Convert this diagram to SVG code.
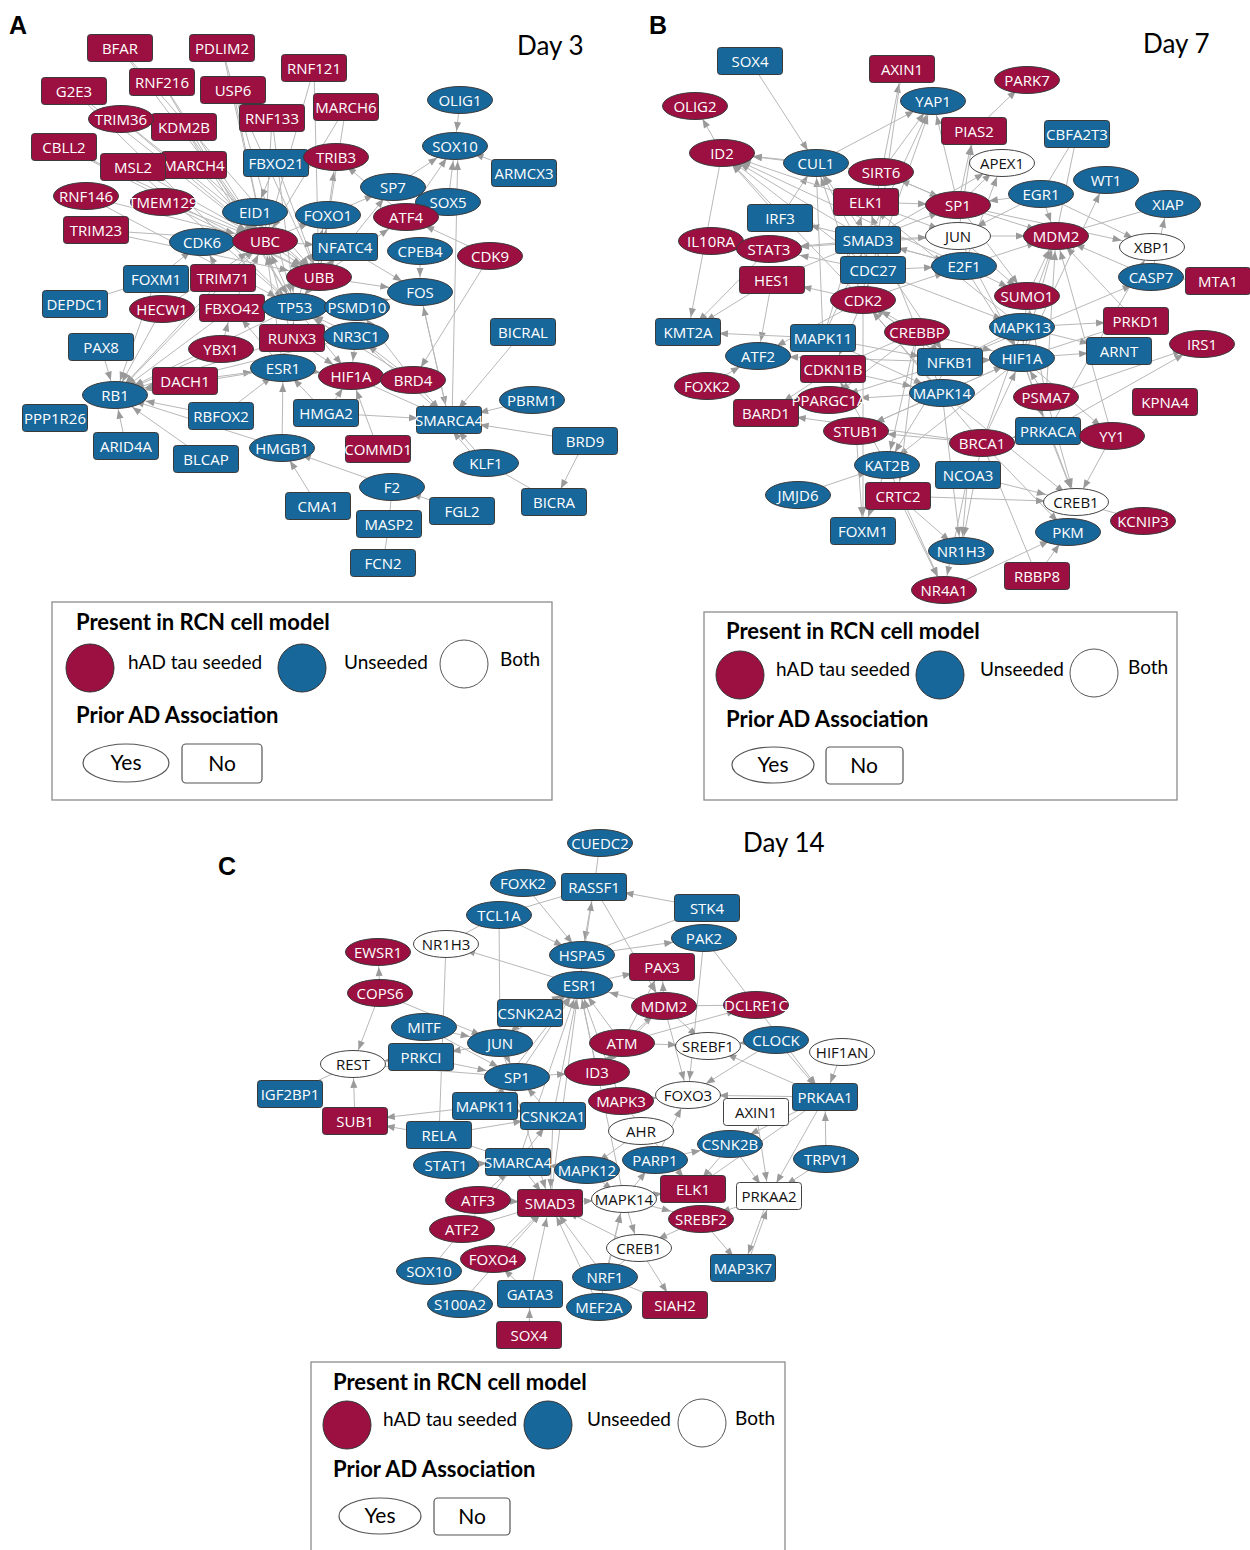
<svg xmlns="http://www.w3.org/2000/svg" xmlns:xlink="http://www.w3.org/1999/xlink" width="1250" height="1550" viewBox="0 0 1250 1550">
<style>
.t{font-family:Lato,"Open Sans",sans-serif;fill:#000}
.pl{font-family:"Liberation Sans",Arial,sans-serif;font-weight:bold;font-size:25px}
.day{font-size:26px}
.lh{font-size:22px;font-weight:bold}
.lt{font-size:19px}
.ly{font-size:21px;text-anchor:middle}
.nd text{font-family:"Open Sans",sans-serif;font-size:15px;fill:#fff;text-anchor:middle}
.nd use{stroke:#3a3a3a;stroke-width:1}
.r use{fill:#9b1040}
.b use{fill:#17679b}
.w use{fill:#fff;stroke:#444}
.w text{fill:#111}
.e{stroke:#b8b8b8;stroke-width:1;fill:none}
.lg{fill:#fff;stroke:#8c8c8c;stroke-width:1.3}
.cr{fill:#9b1040;stroke:#333}
.cb{fill:#17679b;stroke:#333}
.cw{fill:#fff;stroke:#555}
.ys{fill:#fff;stroke:#555;stroke-width:1.2}
</style>
<defs>
<rect id="R" x="-32.5" y="-13.5" width="65" height="27" rx="3"/>
<ellipse id="E" rx="32.5" ry="13.5"/>
<marker id="mv" markerUnits="userSpaceOnUse" markerWidth="9" markerHeight="7" refX="24" refY="3.5" orient="auto" overflow="visible"><path d="M0,0L9,3.5L0,7z" fill="#9a9a9a"/></marker>
<marker id="md" markerUnits="userSpaceOnUse" markerWidth="9" markerHeight="7" refX="30" refY="3.5" orient="auto" overflow="visible"><path d="M0,0L9,3.5L0,7z" fill="#9a9a9a"/></marker>
<marker id="mh" markerUnits="userSpaceOnUse" markerWidth="9" markerHeight="7" refX="40" refY="3.5" orient="auto" overflow="visible"><path d="M0,0L9,3.5L0,7z" fill="#9a9a9a"/></marker>
</defs>
<rect width="1250" height="1550" fill="#fff"/>

<!-- ===== Panel A ===== -->
<g id="panelA">
<text class="t pl" x="9" y="34">A</text>
<text class="t day" x="517" y="55">Day 3</text>
<g id="A_edges" class="e">
<g marker-end="url(#mv)">
<path d="M120 48L265 241"/><path d="M120 48L319 277"/><path d="M222 48L265 241"/><path d="M222 48L295 307"/>
<path d="M162 82L265 241"/><path d="M162 82L295 307"/><path d="M233 90L265 241"/><path d="M233 90L319 277"/>
<path d="M74 91L265 241"/><path d="M74 91L295 307"/><path d="M121 119L265 241"/><path d="M121 119L319 277"/>
<path d="M184 127L265 241"/><path d="M184 127L295 307"/><path d="M133 167L295 307"/><path d="M194 165L265 241"/>
<path d="M194 165L319 277"/><path d="M272 118L265 241"/><path d="M272 118L295 307"/><path d="M314 68L265 241"/>
<path d="M314 68L319 277"/><path d="M346 107L265 241"/><path d="M346 107L319 277"/><path d="M276 163L255 212"/>
<path d="M276 163L319 277"/><path d="M223 278L265 241"/><path d="M232 308L265 241"/><path d="M319 277L295 307"/>
<path d="M295 307L265 241"/><path d="M328 215L336 157"/><path d="M406 217L336 157"/>
<path d="M345 247L393 187"/><path d="M448 202L455 146"/><path d="M406 217L455 146"/><path d="M460 100L455 146"/>
<path d="M490 256L413 380"/><path d="M420 251L420 292"/><path d="M420 292L449 420"/><path d="M449 420L420 292"/><path d="M452 420L458 146"/>
<path d="M523 332L449 420"/><path d="M585 441L554 502"/><path d="M486 463L449 420"/><path d="M480 463L443 420"/><path d="M413 380L449 420"/>
<path d="M356 336L449 420"/><path d="M378 449L351 376"/><path d="M318 506L282 448"/><path d="M282 448L283 368"/>
<path d="M221 416L283 368"/><path d="M126 446L115 395"/><path d="M101 347L115 395"/><path d="M162 309L115 395"/>
<path d="M156 279L115 395"/><path d="M265 241L115 395"/><path d="M223 278L115 395"/><path d="M232 308L115 395"/>
<path d="M156 279L202 242"/><path d="M223 278L202 242"/><path d="M221 349L232 308"/><path d="M283 368L232 308"/>
<path d="M295 307L351 376"/><path d="M356 336L351 376"/><path d="M413 380L356 336"/><path d="M413 380L357 307"/>
<path d="M292 338L295 307"/><path d="M326 413L351 376"/><path d="M326 413L283 368"/><path d="M319 277L345 247"/>
<path d="M319 277L328 215"/><path d="M295 307L328 215"/><path d="M265 241L255 212"/><path d="M292 338L265 241"/>
<path d="M283 368L265 241"/>
</g>
<g marker-end="url(#md)">
<path d="M64 147L265 241"/><path d="M64 147L319 277"/><path d="M133 167L265 241"/><path d="M86 196L295 307"/>
<path d="M163 202L265 241"/><path d="M163 202L319 277"/><path d="M162 309L265 241"/><path d="M265 241L319 277"/>
<path d="M328 215L393 187"/><path d="M393 187L455 146"/><path d="M524 173L455 146"/><path d="M490 256L406 217"/>
<path d="M345 247L420 292"/><path d="M351 376L449 420"/><path d="M392 487L282 448"/><path d="M462 511L392 487"/>
<path d="M282 448L115 395"/><path d="M206 459L115 395"/><path d="M156 279L75 304"/><path d="M221 349L115 395"/>
<path d="M295 307L115 395"/><path d="M292 338L115 395"/><path d="M292 338L351 376"/><path d="M413 380L295 307"/>
<path d="M356 336L295 307"/><path d="M265 241L328 215"/><path d="M319 277L406 217"/>
</g>
<g marker-end="url(#mh)">
<path d="M86 196L265 241"/><path d="M96 230L265 241"/><path d="M96 230L319 277"/><path d="M202 242L265 241"/>
<path d="M319 277L420 292"/><path d="M357 307L420 292"/><path d="M532 400L449 420"/><path d="M585 441L449 420"/>
<path d="M326 413L449 420"/><path d="M221 416L115 395"/><path d="M185 381L115 395"/><path d="M185 381L283 368"/>
<path d="M283 368L115 395"/><path d="M356 336L115 395"/><path d="M283 368L351 376"/><path d="M357 307L295 307"/>
<path d="M265 241L345 247"/>
</g>
<path d="M486 463L554 502"/><path d="M389 524L392 487"/><path d="M383 563L389 524"/>
</g>
<g id="A_nodes">
<g id="A_BFAR" class="nd r" transform="translate(120,48)"><use href="#R"/><text y="5.5">BFAR</text></g>
<g id="A_PDLIM2" class="nd r" transform="translate(222,48)"><use href="#R"/><text y="5.5">PDLIM2</text></g>
<g id="A_RNF121" class="nd r" transform="translate(314,68)"><use href="#R"/><text y="5.5">RNF121</text></g>
<g id="A_G2E3" class="nd r" transform="translate(74,91)"><use href="#R"/><text y="5.5">G2E3</text></g>
<g id="A_RNF216" class="nd r" transform="translate(162,82)"><use href="#R"/><text y="5.5">RNF216</text></g>
<g id="A_USP6" class="nd r" transform="translate(233,90)"><use href="#R"/><text y="5.5">USP6</text></g>
<g id="A_RNF133" class="nd r" transform="translate(272,118)"><use href="#R"/><text y="5.5">RNF133</text></g>
<g id="A_MARCH6" class="nd r" transform="translate(346,107)"><use href="#R"/><text y="5.5">MARCH6</text></g>
<g id="A_KDM2B" class="nd r" transform="translate(184,127)"><use href="#R"/><text y="5.5">KDM2B</text></g>
<g id="A_TRIM36" class="nd r" transform="translate(121,119)"><use href="#E"/><text y="5.5">TRIM36</text></g>
<g id="A_CBLL2" class="nd r" transform="translate(64,147)"><use href="#R"/><text y="5.5">CBLL2</text></g>
<g id="A_MARCH4" class="nd r" transform="translate(194,165)"><use href="#R"/><text y="5.5">MARCH4</text></g>
<g id="A_MSL2" class="nd r" transform="translate(133,167)"><use href="#R"/><text y="5.5">MSL2</text></g>
<g id="A_FBXO21" class="nd b" transform="translate(276,163)"><use href="#R"/><text y="5.5">FBXO21</text></g>
<g id="A_TRIB3" class="nd r" transform="translate(336,157)"><use href="#E"/><text y="5.5">TRIB3</text></g>
<g id="A_OLIG1" class="nd b" transform="translate(460,100)"><use href="#E"/><text y="5.5">OLIG1</text></g>
<g id="A_SOX10" class="nd b" transform="translate(455,146)"><use href="#E"/><text y="5.5">SOX10</text></g>
<g id="A_ARMCX3" class="nd b" transform="translate(524,173)"><use href="#R"/><text y="5.5">ARMCX3</text></g>
<g id="A_SP7" class="nd b" transform="translate(393,187)"><use href="#E"/><text y="5.5">SP7</text></g>
<g id="A_SOX5" class="nd b" transform="translate(448,202)"><use href="#E"/><text y="5.5">SOX5</text></g>
<g id="A_RNF146" class="nd r" transform="translate(86,196)"><use href="#E"/><text y="5.5">RNF146</text></g>
<g id="A_TMEM129" class="nd r" transform="translate(163,202)"><use href="#E"/><text y="5.5">TMEM129</text></g>
<g id="A_EID1" class="nd b" transform="translate(255,212)"><use href="#E"/><text y="5.5">EID1</text></g>
<g id="A_FOXO1" class="nd b" transform="translate(328,215)"><use href="#E"/><text y="5.5">FOXO1</text></g>
<g id="A_ATF4" class="nd r" transform="translate(406,217)"><use href="#E"/><text y="5.5">ATF4</text></g>
<g id="A_TRIM23" class="nd r" transform="translate(96,230)"><use href="#R"/><text y="5.5">TRIM23</text></g>
<g id="A_CDK6" class="nd b" transform="translate(202,242)"><use href="#E"/><text y="5.5">CDK6</text></g>
<g id="A_UBC" class="nd r" transform="translate(265,241)"><use href="#E"/><text y="5.5">UBC</text></g>
<g id="A_NFATC4" class="nd b" transform="translate(345,247)"><use href="#R"/><text y="5.5">NFATC4</text></g>
<g id="A_CPEB4" class="nd b" transform="translate(420,251)"><use href="#E"/><text y="5.5">CPEB4</text></g>
<g id="A_CDK9" class="nd r" transform="translate(490,256)"><use href="#E"/><text y="5.5">CDK9</text></g>
<g id="A_FOXM1" class="nd b" transform="translate(156,279)"><use href="#R"/><text y="5.5">FOXM1</text></g>
<g id="A_TRIM71" class="nd r" transform="translate(223,278)"><use href="#R"/><text y="5.5">TRIM71</text></g>
<g id="A_UBB" class="nd r" transform="translate(319,277)"><use href="#E"/><text y="5.5">UBB</text></g>
<g id="A_FOS" class="nd b" transform="translate(420,292)"><use href="#E"/><text y="5.5">FOS</text></g>
<g id="A_DEPDC1" class="nd b" transform="translate(75,304)"><use href="#R"/><text y="5.5">DEPDC1</text></g>
<g id="A_HECW1" class="nd r" transform="translate(162,309)"><use href="#E"/><text y="5.5">HECW1</text></g>
<g id="A_FBXO42" class="nd r" transform="translate(232,308)"><use href="#R"/><text y="5.5">FBXO42</text></g>
<g id="A_TP53" class="nd b" transform="translate(295,307)"><use href="#E"/><text y="5.5">TP53</text></g>
<g id="A_PSMD10" class="nd b" transform="translate(357,307)"><use href="#E"/><text y="5.5">PSMD10</text></g>
<g id="A_RUNX3" class="nd r" transform="translate(292,338)"><use href="#R"/><text y="5.5">RUNX3</text></g>
<g id="A_NR3C1" class="nd b" transform="translate(356,336)"><use href="#E"/><text y="5.5">NR3C1</text></g>
<g id="A_BICRAL" class="nd b" transform="translate(523,332)"><use href="#R"/><text y="5.5">BICRAL</text></g>
<g id="A_PAX8" class="nd b" transform="translate(101,347)"><use href="#R"/><text y="5.5">PAX8</text></g>
<g id="A_YBX1" class="nd r" transform="translate(221,349)"><use href="#E"/><text y="5.5">YBX1</text></g>
<g id="A_ESR1" class="nd b" transform="translate(283,368)"><use href="#E"/><text y="5.5">ESR1</text></g>
<g id="A_HIF1A" class="nd r" transform="translate(351,376)"><use href="#E"/><text y="5.5">HIF1A</text></g>
<g id="A_BRD4" class="nd r" transform="translate(413,380)"><use href="#E"/><text y="5.5">BRD4</text></g>
<g id="A_DACH1" class="nd r" transform="translate(185,381)"><use href="#R"/><text y="5.5">DACH1</text></g>
<g id="A_RB1" class="nd b" transform="translate(115,395)"><use href="#E"/><text y="5.5">RB1</text></g>
<g id="A_PBRM1" class="nd b" transform="translate(532,400)"><use href="#E"/><text y="5.5">PBRM1</text></g>
<g id="A_PPP1R26" class="nd b" transform="translate(55,418)"><use href="#R"/><text y="5.5">PPP1R26</text></g>
<g id="A_RBFOX2" class="nd b" transform="translate(221,416)"><use href="#R"/><text y="5.5">RBFOX2</text></g>
<g id="A_HMGA2" class="nd b" transform="translate(326,413)"><use href="#R"/><text y="5.5">HMGA2</text></g>
<g id="A_SMARCA4" class="nd b" transform="translate(449,420)"><use href="#R"/><text y="5.5">SMARCA4</text></g>
<g id="A_BRD9" class="nd b" transform="translate(585,441)"><use href="#R"/><text y="5.5">BRD9</text></g>
<g id="A_ARID4A" class="nd b" transform="translate(126,446)"><use href="#R"/><text y="5.5">ARID4A</text></g>
<g id="A_HMGB1" class="nd b" transform="translate(282,448)"><use href="#E"/><text y="5.5">HMGB1</text></g>
<g id="A_COMMD1" class="nd r" transform="translate(378,449)"><use href="#R"/><text y="5.5">COMMD1</text></g>
<g id="A_BLCAP" class="nd b" transform="translate(206,459)"><use href="#R"/><text y="5.5">BLCAP</text></g>
<g id="A_KLF1" class="nd b" transform="translate(486,463)"><use href="#E"/><text y="5.5">KLF1</text></g>
<g id="A_F2" class="nd b" transform="translate(392,487)"><use href="#E"/><text y="5.5">F2</text></g>
<g id="A_BICRA" class="nd b" transform="translate(554,502)"><use href="#R"/><text y="5.5">BICRA</text></g>
<g id="A_CMA1" class="nd b" transform="translate(318,506)"><use href="#R"/><text y="5.5">CMA1</text></g>
<g id="A_FGL2" class="nd b" transform="translate(462,511)"><use href="#R"/><text y="5.5">FGL2</text></g>
<g id="A_MASP2" class="nd b" transform="translate(389,524)"><use href="#R"/><text y="5.5">MASP2</text></g>
<g id="A_FCN2" class="nd b" transform="translate(383,563)"><use href="#R"/><text y="5.5">FCN2</text></g>
</g>
<g id="A_legend">
<rect class="lg" x="52" y="602" width="500" height="198"/>
<text class="t lh" x="76" y="630">Present in RCN cell model</text>
<circle class="cr" cx="90" cy="668" r="24"/>
<text class="t lt" x="128" y="669">hAD tau seeded</text>
<circle class="cb" cx="302" cy="668" r="24"/>
<text class="t lt" x="344" y="669">Unseeded</text>
<circle class="cw" cx="464" cy="664" r="24"/>
<text class="t lt" x="500" y="666">Both</text>
<text class="t lh" x="76" y="723">Prior AD Association</text>
<ellipse class="ys" cx="126" cy="763" rx="43" ry="19"/>
<text class="t ly" x="126" y="770">Yes</text>
<rect class="ys" x="182" y="744" width="80" height="39" rx="4"/>
<text class="t ly" x="222" y="771">No</text>
</g>
</g>

<!-- ===== Panel B ===== -->
<g id="panelB">
<text class="t pl" x="649" y="34">B</text>
<text class="t day" x="1143" y="53">Day 7</text>
<g id="B_edges" class="e">
<g marker-end="url(#mv)">
<path d="M750 61L816 163"/><path d="M722 153L695 106"/><path d="M873 270L722 153"/><path d="M863 300L722 153"/>
<path d="M722 153L688 332"/><path d="M769 249L688 332"/><path d="M868 240L902 69"/><path d="M902 69L873 270"/>
<path d="M868 240L933 101"/><path d="M873 270L933 101"/><path d="M881 172L933 101"/><path d="M958 205L933 101"/>
<path d="M974 131L1027 80"/><path d="M958 205L974 131"/><path d="M958 236L974 131"/><path d="M964 266L1002 163"/>
<path d="M958 205L1002 163"/><path d="M1041 194L1056 236"/><path d="M1022 358L1106 180"/><path d="M1151 277L1168 204"/>
<path d="M1027 296L1056 236"/><path d="M1022 358L1056 236"/><path d="M1046 397L1056 236"/><path d="M1136 321L1056 236"/>
<path d="M1112 436L1056 236"/><path d="M982 443L1056 236"/><path d="M1048 431L1152 247"/><path d="M772 280L758 356"/>
<path d="M780 218L816 163"/><path d="M780 218L722 153"/><path d="M863 300L833 369"/><path d="M917 332L829 400"/>
<path d="M917 332L887 465"/><path d="M950 362L887 465"/><path d="M1022 358L887 465"/><path d="M856 431L863 531"/>
<path d="M887 465L863 531"/><path d="M863 300L863 531"/><path d="M917 332L898 496"/><path d="M898 496L944 590"/>
<path d="M887 465L944 590"/><path d="M968 475L944 590"/><path d="M982 443L961 551"/><path d="M968 475L961 551"/>
<path d="M898 496L961 551"/><path d="M942 393L961 551"/><path d="M1037 576L1068 532"/><path d="M982 443L1068 532"/>
<path d="M1112 436L1076 502"/><path d="M1048 431L1076 502"/><path d="M1022 358L1076 502"/><path d="M942 393L1076 502"/>
<path d="M1046 397L1076 502"/><path d="M1022 358L1048 431"/><path d="M1022 358L1112 436"/><path d="M982 443L1022 358"/>
<path d="M964 266L1022 358"/><path d="M958 236L1022 358"/><path d="M1027 296L1022 358"/><path d="M1046 397L1022 358"/>
<path d="M863 300L950 362"/><path d="M917 332L950 362"/><path d="M868 240L950 362"/><path d="M958 236L1027 296"/>
<path d="M958 205L1027 296"/><path d="M873 270L816 163"/><path d="M868 240L816 163"/><path d="M863 300L816 163"/>
<path d="M823 338L816 163"/><path d="M823 338L866 202"/><path d="M942 393L866 202"/><path d="M1022 327L866 202"/>
<path d="M863 300L868 240"/><path d="M823 338L868 240"/><path d="M863 300L873 270"/><path d="M942 393L863 300"/>
<path d="M950 362L863 300"/><path d="M982 443L863 300"/><path d="M1046 397L1027 296"/><path d="M887 465L833 369"/>
</g>
<g marker-end="url(#md)">
<path d="M868 240L722 153"/><path d="M866 202L722 153"/><path d="M964 266L722 153"/><path d="M816 163L933 101"/>
<path d="M868 240L1002 163"/><path d="M1041 194L1152 247"/><path d="M1041 194L958 236"/><path d="M964 266L1056 236"/>
<path d="M958 205L1056 236"/><path d="M1151 277L1056 236"/><path d="M868 240L772 280"/><path d="M772 280L688 332"/>
<path d="M707 386L758 356"/><path d="M863 300L758 356"/><path d="M917 332L833 369"/><path d="M833 369L766 413"/>
<path d="M950 362L829 400"/><path d="M1022 358L856 431"/><path d="M942 393L856 431"/><path d="M798 495L887 465"/>
<path d="M944 590L1068 532"/><path d="M1022 358L1136 321"/><path d="M1046 397L1202 344"/><path d="M1048 431L1202 344"/>
<path d="M873 270L1022 327"/><path d="M942 393L1022 358"/><path d="M823 338L942 393"/><path d="M964 266L1027 296"/>
<path d="M863 300L964 266"/><path d="M868 240L964 266"/><path d="M866 202L958 236"/><path d="M881 172L958 205"/>
<path d="M868 240L958 205"/><path d="M958 205L881 172"/><path d="M917 332L863 300"/><path d="M1022 327L950 362"/>
<path d="M950 362L1151 277"/>
</g>
<g marker-end="url(#mh)">
<path d="M816 163L722 153"/><path d="M881 172L722 153"/><path d="M1041 194L958 205"/><path d="M958 236L1056 236"/>
<path d="M958 205L1152 247"/><path d="M868 240L769 249"/><path d="M873 270L769 249"/><path d="M958 236L769 249"/>
<path d="M863 300L772 280"/><path d="M868 240L780 218"/><path d="M823 338L688 332"/><path d="M950 362L758 356"/>
<path d="M982 443L766 413"/><path d="M942 393L829 400"/><path d="M982 443L856 431"/><path d="M898 496L1076 502"/>
<path d="M968 475L1076 502"/><path d="M1022 327L1136 321"/><path d="M1022 358L1119 351"/><path d="M1022 327L1119 351"/>
<path d="M950 362L1022 358"/><path d="M917 332L1022 358"/><path d="M823 338L950 362"/><path d="M833 369L942 393"/>
<path d="M873 270L964 266"/><path d="M868 240L958 236"/><path d="M866 202L958 205"/><path d="M964 266L868 240"/>
<path d="M1048 431L982 443"/>
</g>
<path d="M1077 134L1041 194"/><path d="M1077 134L1056 236"/><path d="M1168 204L1056 236"/><path d="M1218 281L1151 277"/>
<path d="M1143 521L1076 502"/><path d="M982 443L1037 576"/>
</g>
<g id="B_nodes">
<g id="B_SOX4" class="nd b" transform="translate(750,61)"><use href="#R"/><text y="5.5">SOX4</text></g>
<g id="B_AXIN1" class="nd r" transform="translate(902,69)"><use href="#R"/><text y="5.5">AXIN1</text></g>
<g id="B_PARK7" class="nd r" transform="translate(1027,80)"><use href="#E"/><text y="5.5">PARK7</text></g>
<g id="B_OLIG2" class="nd r" transform="translate(695,106)"><use href="#E"/><text y="5.5">OLIG2</text></g>
<g id="B_YAP1" class="nd b" transform="translate(933,101)"><use href="#E"/><text y="5.5">YAP1</text></g>
<g id="B_PIAS2" class="nd r" transform="translate(974,131)"><use href="#R"/><text y="5.5">PIAS2</text></g>
<g id="B_CBFA2T3" class="nd b" transform="translate(1077,134)"><use href="#R"/><text y="5.5">CBFA2T3</text></g>
<g id="B_ID2" class="nd r" transform="translate(722,153)"><use href="#E"/><text y="5.5">ID2</text></g>
<g id="B_CUL1" class="nd b" transform="translate(816,163)"><use href="#E"/><text y="5.5">CUL1</text></g>
<g id="B_SIRT6" class="nd r" transform="translate(881,172)"><use href="#E"/><text y="5.5">SIRT6</text></g>
<g id="B_APEX1" class="nd w" transform="translate(1002,163)"><use href="#E"/><text y="5.5">APEX1</text></g>
<g id="B_WT1" class="nd b" transform="translate(1106,180)"><use href="#E"/><text y="5.5">WT1</text></g>
<g id="B_EGR1" class="nd b" transform="translate(1041,194)"><use href="#E"/><text y="5.5">EGR1</text></g>
<g id="B_XIAP" class="nd b" transform="translate(1168,204)"><use href="#E"/><text y="5.5">XIAP</text></g>
<g id="B_ELK1" class="nd r" transform="translate(866,202)"><use href="#R"/><text y="5.5">ELK1</text></g>
<g id="B_SP1" class="nd r" transform="translate(958,205)"><use href="#E"/><text y="5.5">SP1</text></g>
<g id="B_IRF3" class="nd b" transform="translate(780,218)"><use href="#R"/><text y="5.5">IRF3</text></g>
<g id="B_SMAD3" class="nd b" transform="translate(868,240)"><use href="#R"/><text y="5.5">SMAD3</text></g>
<g id="B_JUN" class="nd w" transform="translate(958,236)"><use href="#E"/><text y="5.5">JUN</text></g>
<g id="B_MDM2" class="nd r" transform="translate(1056,236)"><use href="#E"/><text y="5.5">MDM2</text></g>
<g id="B_XBP1" class="nd w" transform="translate(1152,247)"><use href="#E"/><text y="5.5">XBP1</text></g>
<g id="B_IL10RA" class="nd r" transform="translate(711,241)"><use href="#E"/><text y="5.5">IL10RA</text></g>
<g id="B_STAT3" class="nd r" transform="translate(769,249)"><use href="#E"/><text y="5.5">STAT3</text></g>
<g id="B_E2F1" class="nd b" transform="translate(964,266)"><use href="#E"/><text y="5.5">E2F1</text></g>
<g id="B_CDC27" class="nd b" transform="translate(873,270)"><use href="#R"/><text y="5.5">CDC27</text></g>
<g id="B_HES1" class="nd r" transform="translate(772,280)"><use href="#R"/><text y="5.5">HES1</text></g>
<g id="B_CASP7" class="nd b" transform="translate(1151,277)"><use href="#E"/><text y="5.5">CASP7</text></g>
<g id="B_MTA1" class="nd r" transform="translate(1218,281)"><use href="#R"/><text y="5.5">MTA1</text></g>
<g id="B_CDK2" class="nd r" transform="translate(863,300)"><use href="#E"/><text y="5.5">CDK2</text></g>
<g id="B_SUMO1" class="nd r" transform="translate(1027,296)"><use href="#E"/><text y="5.5">SUMO1</text></g>
<g id="B_KMT2A" class="nd b" transform="translate(688,332)"><use href="#R"/><text y="5.5">KMT2A</text></g>
<g id="B_MAPK11" class="nd b" transform="translate(823,338)"><use href="#R"/><text y="5.5">MAPK11</text></g>
<g id="B_CREBBP" class="nd r" transform="translate(917,332)"><use href="#E"/><text y="5.5">CREBBP</text></g>
<g id="B_MAPK13" class="nd b" transform="translate(1022,327)"><use href="#E"/><text y="5.5">MAPK13</text></g>
<g id="B_PRKD1" class="nd r" transform="translate(1136,321)"><use href="#R"/><text y="5.5">PRKD1</text></g>
<g id="B_IRS1" class="nd r" transform="translate(1202,344)"><use href="#E"/><text y="5.5">IRS1</text></g>
<g id="B_ATF2" class="nd b" transform="translate(758,356)"><use href="#E"/><text y="5.5">ATF2</text></g>
<g id="B_NFKB1" class="nd b" transform="translate(950,362)"><use href="#R"/><text y="5.5">NFKB1</text></g>
<g id="B_HIF1A" class="nd b" transform="translate(1022,358)"><use href="#E"/><text y="5.5">HIF1A</text></g>
<g id="B_ARNT" class="nd b" transform="translate(1119,351)"><use href="#R"/><text y="5.5">ARNT</text></g>
<g id="B_CDKN1B" class="nd r" transform="translate(833,369)"><use href="#R"/><text y="5.5">CDKN1B</text></g>
<g id="B_FOXK2" class="nd r" transform="translate(707,386)"><use href="#E"/><text y="5.5">FOXK2</text></g>
<g id="B_MAPK14" class="nd b" transform="translate(942,393)"><use href="#E"/><text y="5.5">MAPK14</text></g>
<g id="B_PSMA7" class="nd r" transform="translate(1046,397)"><use href="#E"/><text y="5.5">PSMA7</text></g>
<g id="B_KPNA4" class="nd r" transform="translate(1165,402)"><use href="#R"/><text y="5.5">KPNA4</text></g>
<g id="B_BARD1" class="nd r" transform="translate(766,413)"><use href="#R"/><text y="5.5">BARD1</text></g>
<g id="B_PPARGC1A" class="nd r" transform="translate(829,400)"><use href="#E"/><text y="5.5">PPARGC1A</text></g>
<g id="B_STUB1" class="nd r" transform="translate(856,431)"><use href="#E"/><text y="5.5">STUB1</text></g>
<g id="B_PRKACA" class="nd b" transform="translate(1048,431)"><use href="#R"/><text y="5.5">PRKACA</text></g>
<g id="B_YY1" class="nd r" transform="translate(1112,436)"><use href="#E"/><text y="5.5">YY1</text></g>
<g id="B_BRCA1" class="nd r" transform="translate(982,443)"><use href="#E"/><text y="5.5">BRCA1</text></g>
<g id="B_KAT2B" class="nd b" transform="translate(887,465)"><use href="#E"/><text y="5.5">KAT2B</text></g>
<g id="B_NCOA3" class="nd b" transform="translate(968,475)"><use href="#R"/><text y="5.5">NCOA3</text></g>
<g id="B_JMJD6" class="nd b" transform="translate(798,495)"><use href="#E"/><text y="5.5">JMJD6</text></g>
<g id="B_CRTC2" class="nd r" transform="translate(898,496)"><use href="#R"/><text y="5.5">CRTC2</text></g>
<g id="B_CREB1" class="nd w" transform="translate(1076,502)"><use href="#E"/><text y="5.5">CREB1</text></g>
<g id="B_KCNIP3" class="nd r" transform="translate(1143,521)"><use href="#E"/><text y="5.5">KCNIP3</text></g>
<g id="B_FOXM1" class="nd b" transform="translate(863,531)"><use href="#R"/><text y="5.5">FOXM1</text></g>
<g id="B_PKM" class="nd b" transform="translate(1068,532)"><use href="#E"/><text y="5.5">PKM</text></g>
<g id="B_NR1H3" class="nd b" transform="translate(961,551)"><use href="#E"/><text y="5.5">NR1H3</text></g>
<g id="B_RBBP8" class="nd r" transform="translate(1037,576)"><use href="#R"/><text y="5.5">RBBP8</text></g>
<g id="B_NR4A1" class="nd r" transform="translate(944,590)"><use href="#E"/><text y="5.5">NR4A1</text></g>
</g>
<g id="B_legend">
<rect class="lg" x="704" y="612" width="473" height="188"/>
<text class="t lh" x="726" y="639">Present in RCN cell model</text>
<circle class="cr" cx="740" cy="675" r="24"/>
<text class="t lt" x="776" y="676">hAD tau seeded</text>
<circle class="cb" cx="940" cy="675" r="24"/>
<text class="t lt" x="980" y="676">Unseeded</text>
<circle class="cw" cx="1094" cy="673" r="24"/>
<text class="t lt" x="1128" y="674">Both</text>
<text class="t lh" x="726" y="727">Prior AD Association</text>
<ellipse class="ys" cx="773" cy="765" rx="41" ry="18"/>
<text class="t ly" x="773" y="772">Yes</text>
<rect class="ys" x="826" y="747" width="77" height="37" rx="4"/>
<text class="t ly" x="864" y="773">No</text>
</g>
</g>

<!-- ===== Panel C ===== -->
<g id="panelC">
<text class="t pl" x="218" y="875">C</text>
<text class="t day" x="743" y="852">Day 14</text>
<g id="C_edges" class="e">
<g marker-end="url(#mv)">
<path d="M594 887L582 955"/><path d="M579 985L594 887"/><path d="M594 887L664 1006"/><path d="M523 883L582 955"/>
<path d="M380 993L378 952"/><path d="M380 993L353 1064"/><path d="M355 1121L353 1064"/><path d="M704 938L825 1097"/>
<path d="M704 938L688 1095"/><path d="M664 1006L662 967"/><path d="M622 1043L662 967"/><path d="M500 1043L579 985"/>
<path d="M517 1077L579 985"/><path d="M485 1106L579 985"/><path d="M553 1116L579 985"/><path d="M622 1043L579 985"/>
<path d="M597 1072L579 985"/><path d="M621 1101L579 985"/><path d="M518 1162L579 985"/><path d="M550 1203L579 985"/>
<path d="M624 1199L579 985"/><path d="M776 1040L825 1097"/><path d="M842 1052L825 1097"/><path d="M826 1159L825 1097"/>
<path d="M825 1097L769 1196"/><path d="M756 1112L769 1196"/><path d="M731 1144L769 1196"/><path d="M769 1196L743 1268"/>
<path d="M746 1268L772 1196"/><path d="M701 1219L743 1268"/><path d="M639 1248L675 1305"/><path d="M664 1006L708 1046"/>
<path d="M664 1006L688 1095"/><path d="M655 1160L688 1095"/><path d="M624 1199L655 1160"/><path d="M624 1199L639 1248"/>
<path d="M587 1170L624 1199"/><path d="M621 1101L693 1189"/><path d="M493 1259L550 1203"/><path d="M530 1294L550 1203"/>
<path d="M518 1162L550 1203"/><path d="M529 1335L530 1294"/><path d="M605 1277L550 1203"/><path d="M599 1307L550 1203"/>
<path d="M460 1304L550 1203"/><path d="M530 1294L493 1259"/><path d="M605 1277L624 1199"/><path d="M599 1307L624 1199"/>
<path d="M553 1116L517 1077"/><path d="M500 1043L517 1077"/><path d="M597 1072L622 1043"/><path d="M622 1043L664 1006"/>
<path d="M530 1013L500 1043"/><path d="M641 1131L587 1170"/><path d="M731 1144L693 1189"/><path d="M517 1077L485 1106"/>
<path d="M553 1116L550 1203"/><path d="M500 1043L550 1203"/><path d="M478 1200L518 1162"/><path d="M664 1006L597 1072"/>
<path d="M518 1162L553 1116"/><path d="M825 1097L693 1189"/>
</g>
<g marker-end="url(#md)">
<path d="M582 955L707 908"/><path d="M499 915L582 955"/><path d="M579 985L446 944"/><path d="M380 993L500 1043"/>
<path d="M530 1013L579 985"/><path d="M622 1043L756 1005"/><path d="M826 1159L769 1196"/><path d="M825 1097L708 1046"/>
<path d="M769 1196L701 1219"/><path d="M776 1040L688 1095"/><path d="M462 1229L550 1203"/><path d="M639 1248L550 1203"/>
<path d="M439 1135L518 1162"/><path d="M424 1027L517 1077"/><path d="M701 1219L639 1248"/><path d="M825 1097L731 1144"/>
</g>
<g marker-end="url(#mh)">
<path d="M707 908L594 887"/><path d="M582 955L704 938"/><path d="M424 1027L500 1043"/><path d="M500 1043L421 1057"/>
<path d="M439 1135L355 1121"/><path d="M485 1106L355 1121"/><path d="M579 985L662 967"/><path d="M664 1006L579 985"/>
<path d="M825 1097L688 1095"/><path d="M622 1043L708 1046"/><path d="M776 1040L708 1046"/><path d="M655 1160L731 1144"/>
<path d="M624 1199L693 1189"/><path d="M624 1199L701 1219"/><path d="M621 1101L688 1095"/><path d="M478 1200L550 1203"/>
<path d="M446 1165L518 1162"/><path d="M439 1135L553 1116"/><path d="M485 1106L553 1116"/><path d="M517 1077L597 1072"/>
<path d="M421 1057L517 1077"/><path d="M550 1203L624 1199"/><path d="M587 1170L518 1162"/><path d="M421 1057L353 1064"/>
</g>
<path d="M600 843L594 887"/><path d="M499 915L446 944"/><path d="M499 915L500 1043"/><path d="M499 915L594 887"/>
<path d="M446 944L439 1135"/><path d="M290 1094L353 1064"/><path d="M353 1064L517 1077"/><path d="M664 1006L756 1005"/>
<path d="M605 1277L675 1305"/><path d="M639 1248L605 1277"/><path d="M429 1271L518 1162"/>
</g>
<g id="C_nodes">
<g id="C_CUEDC2" class="nd b" transform="translate(600,843)"><use href="#E"/><text y="5.5">CUEDC2</text></g>
<g id="C_FOXK2" class="nd b" transform="translate(523,883)"><use href="#E"/><text y="5.5">FOXK2</text></g>
<g id="C_RASSF1" class="nd b" transform="translate(594,887)"><use href="#R"/><text y="5.5">RASSF1</text></g>
<g id="C_STK4" class="nd b" transform="translate(707,908)"><use href="#R"/><text y="5.5">STK4</text></g>
<g id="C_TCL1A" class="nd b" transform="translate(499,915)"><use href="#E"/><text y="5.5">TCL1A</text></g>
<g id="C_PAK2" class="nd b" transform="translate(704,938)"><use href="#E"/><text y="5.5">PAK2</text></g>
<g id="C_NR1H3" class="nd w" transform="translate(446,944)"><use href="#E"/><text y="5.5">NR1H3</text></g>
<g id="C_EWSR1" class="nd r" transform="translate(378,952)"><use href="#E"/><text y="5.5">EWSR1</text></g>
<g id="C_HSPA5" class="nd b" transform="translate(582,955)"><use href="#E"/><text y="5.5">HSPA5</text></g>
<g id="C_PAX3" class="nd r" transform="translate(662,967)"><use href="#R"/><text y="5.5">PAX3</text></g>
<g id="C_ESR1" class="nd b" transform="translate(580,985)"><use href="#E"/><text y="5.5">ESR1</text></g>
<g id="C_COPS6" class="nd r" transform="translate(380,993)"><use href="#E"/><text y="5.5">COPS6</text></g>
<g id="C_MDM2" class="nd r" transform="translate(664,1006)"><use href="#E"/><text y="5.5">MDM2</text></g>
<g id="C_DCLRE1C" class="nd r" transform="translate(756,1005)"><use href="#E"/><text y="5.5">DCLRE1C</text></g>
<g id="C_CSNK2A2" class="nd b" transform="translate(530,1013)"><use href="#R"/><text y="5.5">CSNK2A2</text></g>
<g id="C_MITF" class="nd b" transform="translate(424,1027)"><use href="#E"/><text y="5.5">MITF</text></g>
<g id="C_JUN" class="nd b" transform="translate(500,1043)"><use href="#E"/><text y="5.5">JUN</text></g>
<g id="C_ATM" class="nd r" transform="translate(622,1043)"><use href="#E"/><text y="5.5">ATM</text></g>
<g id="C_SREBF1" class="nd w" transform="translate(708,1046)"><use href="#E"/><text y="5.5">SREBF1</text></g>
<g id="C_CLOCK" class="nd b" transform="translate(776,1040)"><use href="#E"/><text y="5.5">CLOCK</text></g>
<g id="C_HIF1AN" class="nd w" transform="translate(842,1052)"><use href="#E"/><text y="5.5">HIF1AN</text></g>
<g id="C_PRKCI" class="nd b" transform="translate(421,1057)"><use href="#R"/><text y="5.5">PRKCI</text></g>
<g id="C_REST" class="nd w" transform="translate(353,1064)"><use href="#E"/><text y="5.5">REST</text></g>
<g id="C_SP1" class="nd b" transform="translate(517,1077)"><use href="#E"/><text y="5.5">SP1</text></g>
<g id="C_ID3" class="nd r" transform="translate(597,1072)"><use href="#E"/><text y="5.5">ID3</text></g>
<g id="C_FOXO3" class="nd w" transform="translate(688,1095)"><use href="#E"/><text y="5.5">FOXO3</text></g>
<g id="C_MAPK3" class="nd r" transform="translate(621,1101)"><use href="#E"/><text y="5.5">MAPK3</text></g>
<g id="C_IGF2BP1" class="nd b" transform="translate(290,1094)"><use href="#R"/><text y="5.5">IGF2BP1</text></g>
<g id="C_PRKAA1" class="nd b" transform="translate(825,1097)"><use href="#R"/><text y="5.5">PRKAA1</text></g>
<g id="C_AXIN1" class="nd w" transform="translate(756,1112)"><use href="#R"/><text y="5.5">AXIN1</text></g>
<g id="C_MAPK11" class="nd b" transform="translate(485,1106)"><use href="#R"/><text y="5.5">MAPK11</text></g>
<g id="C_CSNK2A1" class="nd b" transform="translate(553,1116)"><use href="#R"/><text y="5.5">CSNK2A1</text></g>
<g id="C_SUB1" class="nd r" transform="translate(355,1121)"><use href="#R"/><text y="5.5">SUB1</text></g>
<g id="C_AHR" class="nd w" transform="translate(641,1131)"><use href="#E"/><text y="5.5">AHR</text></g>
<g id="C_RELA" class="nd b" transform="translate(439,1135)"><use href="#R"/><text y="5.5">RELA</text></g>
<g id="C_CSNK2B" class="nd b" transform="translate(730,1144)"><use href="#E"/><text y="5.5">CSNK2B</text></g>
<g id="C_TRPV1" class="nd b" transform="translate(826,1159)"><use href="#E"/><text y="5.5">TRPV1</text></g>
<g id="C_PARP1" class="nd b" transform="translate(655,1160)"><use href="#E"/><text y="5.5">PARP1</text></g>
<g id="C_STAT1" class="nd b" transform="translate(446,1165)"><use href="#E"/><text y="5.5">STAT1</text></g>
<g id="C_SMARCA4" class="nd b" transform="translate(518,1162)"><use href="#R"/><text y="5.5">SMARCA4</text></g>
<g id="C_MAPK12" class="nd b" transform="translate(587,1170)"><use href="#E"/><text y="5.5">MAPK12</text></g>
<g id="C_ELK1" class="nd r" transform="translate(693,1189)"><use href="#R"/><text y="5.5">ELK1</text></g>
<g id="C_PRKAA2" class="nd w" transform="translate(769,1196)"><use href="#R"/><text y="5.5">PRKAA2</text></g>
<g id="C_MAPK14" class="nd w" transform="translate(624,1199)"><use href="#E"/><text y="5.5">MAPK14</text></g>
<g id="C_ATF3" class="nd r" transform="translate(478,1200)"><use href="#E"/><text y="5.5">ATF3</text></g>
<g id="C_SMAD3" class="nd r" transform="translate(550,1203)"><use href="#R"/><text y="5.5">SMAD3</text></g>
<g id="C_SREBF2" class="nd r" transform="translate(701,1219)"><use href="#E"/><text y="5.5">SREBF2</text></g>
<g id="C_ATF2" class="nd r" transform="translate(462,1229)"><use href="#E"/><text y="5.5">ATF2</text></g>
<g id="C_CREB1" class="nd w" transform="translate(639,1248)"><use href="#E"/><text y="5.5">CREB1</text></g>
<g id="C_FOXO4" class="nd r" transform="translate(493,1259)"><use href="#E"/><text y="5.5">FOXO4</text></g>
<g id="C_MAP3K7" class="nd b" transform="translate(743,1268)"><use href="#R"/><text y="5.5">MAP3K7</text></g>
<g id="C_SOX10" class="nd b" transform="translate(429,1271)"><use href="#E"/><text y="5.5">SOX10</text></g>
<g id="C_NRF1" class="nd b" transform="translate(605,1277)"><use href="#E"/><text y="5.5">NRF1</text></g>
<g id="C_GATA3" class="nd b" transform="translate(530,1294)"><use href="#R"/><text y="5.5">GATA3</text></g>
<g id="C_S100A2" class="nd b" transform="translate(460,1304)"><use href="#E"/><text y="5.5">S100A2</text></g>
<g id="C_MEF2A" class="nd b" transform="translate(599,1307)"><use href="#E"/><text y="5.5">MEF2A</text></g>
<g id="C_SIAH2" class="nd r" transform="translate(675,1305)"><use href="#R"/><text y="5.5">SIAH2</text></g>
<g id="C_SOX4" class="nd r" transform="translate(529,1335)"><use href="#R"/><text y="5.5">SOX4</text></g>
</g>
<g id="C_legend">
<rect class="lg" x="311" y="1362" width="474" height="200"/>
<text class="t lh" x="333" y="1390">Present in RCN cell model</text>
<circle class="cr" cx="347" cy="1425" r="24"/>
<text class="t lt" x="383" y="1426">hAD tau seeded</text>
<circle class="cb" cx="548" cy="1425" r="24"/>
<text class="t lt" x="587" y="1426">Unseeded</text>
<circle class="cw" cx="702" cy="1423" r="24"/>
<text class="t lt" x="735" y="1425">Both</text>
<text class="t lh" x="333" y="1477">Prior AD Association</text>
<ellipse class="ys" cx="380" cy="1516" rx="41" ry="18"/>
<text class="t ly" x="380" y="1523">Yes</text>
<rect class="ys" x="434" y="1498" width="76" height="37" rx="4"/>
<text class="t ly" x="472" y="1524">No</text>
</g>
</g>
</svg>
